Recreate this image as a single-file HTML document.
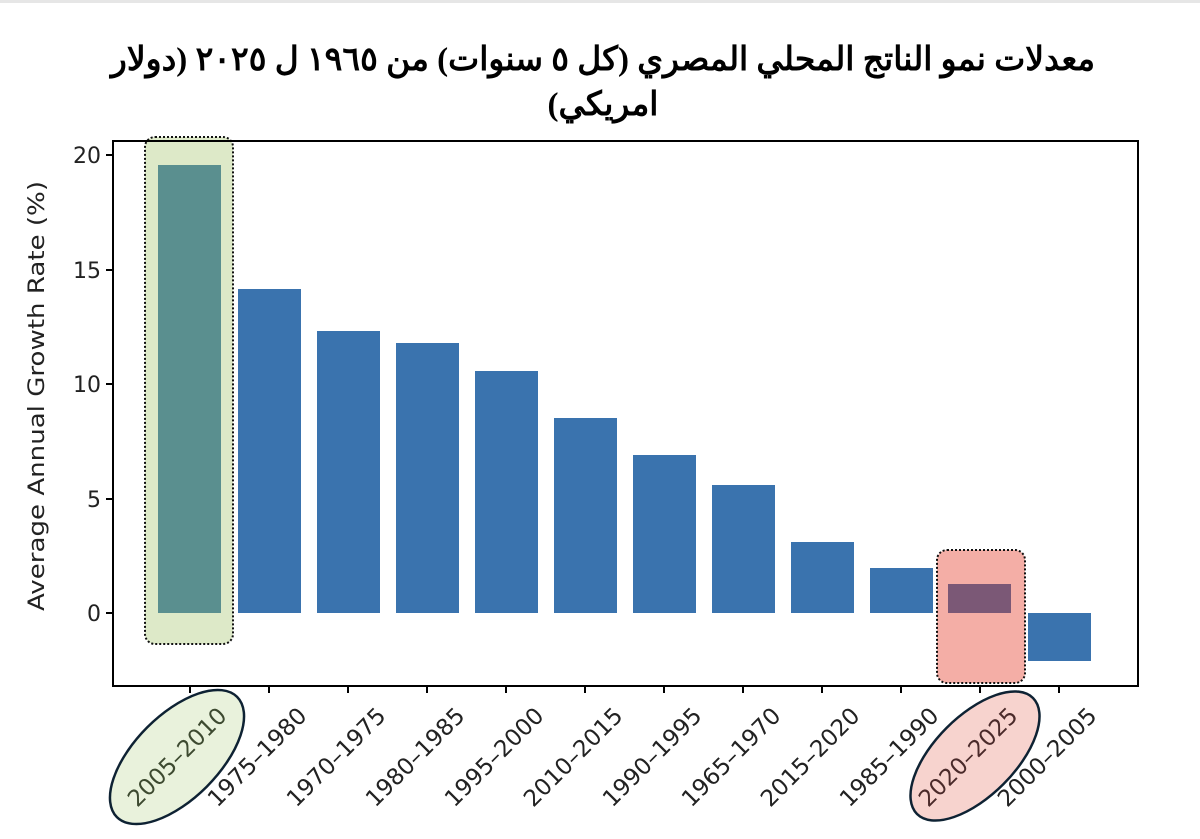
<!DOCTYPE html>
<html><head><meta charset="utf-8"><style>body{margin:0;background:#fff}svg{display:block}</style></head>
<body>
<svg width="1200" height="839" xmlns="http://www.w3.org/2000/svg" font-family="DejaVu Sans, Liberation Sans, sans-serif">
<rect x="0" y="0" width="1200" height="3" fill="#e6e6e6"/>
<text x="603" y="70" text-anchor="middle" font-family="Liberation Serif, Noto Sans CJK SC, serif" font-weight="bold" font-size="33" direction="rtl">معدلات نمو الناتج المحلي المصري (كل ٥ سنوات) من ١٩٦٥ ل ٢٠٢٥ (دولار</text>
<text x="603" y="115" text-anchor="middle" font-family="Liberation Serif, Noto Sans CJK SC, serif" font-weight="bold" font-size="33" direction="rtl">امريكي)</text>
<rect x="145" y="137" width="88" height="507" rx="10" fill="#dde9c8" stroke="#111" stroke-width="2" stroke-dasharray="2,2"/>
<rect x="937" y="550" width="88" height="133" rx="10" fill="#f4aea6" stroke="#111" stroke-width="2" stroke-dasharray="2,2"/>
<g fill="#3a73ae">
<rect x="158" y="165" width="63" height="448" fill="#5a8f8f"/>
<rect x="238" y="289" width="63" height="324"/>
<rect x="317" y="331" width="63" height="282"/>
<rect x="396" y="343" width="63" height="270"/>
<rect x="475" y="371" width="63" height="242"/>
<rect x="554" y="418" width="63" height="195"/>
<rect x="633" y="455" width="63" height="158"/>
<rect x="712" y="485" width="63" height="128"/>
<rect x="791" y="542" width="63" height="71"/>
<rect x="870" y="568" width="63" height="45"/>
<rect x="948" y="584" width="63" height="29" fill="#7b5876"/>
<rect x="1028" y="613" width="63" height="48"/>
</g>
<rect x="113" y="141" width="1025" height="545" fill="none" stroke="#000" stroke-width="2"/>
<g stroke="#000" stroke-width="2">
<line x1="106" y1="155" x2="113" y2="155"/><line x1="106" y1="270" x2="113" y2="270"/><line x1="106" y1="384" x2="113" y2="384"/><line x1="106" y1="499" x2="113" y2="499"/><line x1="106" y1="613" x2="113" y2="613"/>
<line x1="190" y1="686" x2="190" y2="693"/><line x1="269" y1="686" x2="269" y2="693"/><line x1="348" y1="686" x2="348" y2="693"/><line x1="427" y1="686" x2="427" y2="693"/><line x1="506" y1="686" x2="506" y2="693"/><line x1="585" y1="686" x2="585" y2="693"/><line x1="664" y1="686" x2="664" y2="693"/><line x1="743" y1="686" x2="743" y2="693"/><line x1="822" y1="686" x2="822" y2="693"/><line x1="901" y1="686" x2="901" y2="693"/><line x1="980" y1="686" x2="980" y2="693"/><line x1="1059" y1="686" x2="1059" y2="693"/>
</g>
<g font-size="22" fill="#222" text-anchor="end">
<text x="101" y="163">20</text><text x="101" y="278">15</text><text x="101" y="392">10</text><text x="101" y="507">5</text><text x="101" y="621">0</text>
</g>
<text transform="translate(44,396) rotate(-90)" text-anchor="middle" font-size="22" fill="#222" textLength="430" lengthAdjust="spacingAndGlyphs">Average Annual Growth Rate (%)</text>
<ellipse cx="177" cy="757" rx="85" ry="42" transform="rotate(-45,177,757)" fill="#e9f2dc" stroke="#0e2233" stroke-width="2.5"/>
<ellipse cx="975" cy="756" rx="82" ry="40" transform="rotate(-45,975,756)" fill="#f7d3ce" stroke="#0e2233" stroke-width="2.5"/>
<g font-size="23" fill="#222" text-anchor="middle">
<text x="177" y="765" transform="rotate(-45,177,757)" fill="#3d4a30">2005–2010</text>
<text x="257" y="765" transform="rotate(-45,257,757)">1975–1980</text>
<text x="336" y="765" transform="rotate(-45,336,757)">1970–1975</text>
<text x="415" y="765" transform="rotate(-45,415,757)">1980–1985</text>
<text x="494" y="765" transform="rotate(-45,494,757)">1995–2000</text>
<text x="573" y="765" transform="rotate(-45,573,757)">2010–2015</text>
<text x="652" y="765" transform="rotate(-45,652,757)">1990–1995</text>
<text x="731" y="765" transform="rotate(-45,731,757)">1965–1970</text>
<text x="810" y="765" transform="rotate(-45,810,757)">2015–2020</text>
<text x="889" y="765" transform="rotate(-45,889,757)">1985–1990</text>
<text x="968" y="765" transform="rotate(-45,968,757)" fill="#4a2a2a">2020–2025</text>
<text x="1047" y="765" transform="rotate(-45,1047,757)">2000–2005</text>
</g>
</svg>
</body></html>
